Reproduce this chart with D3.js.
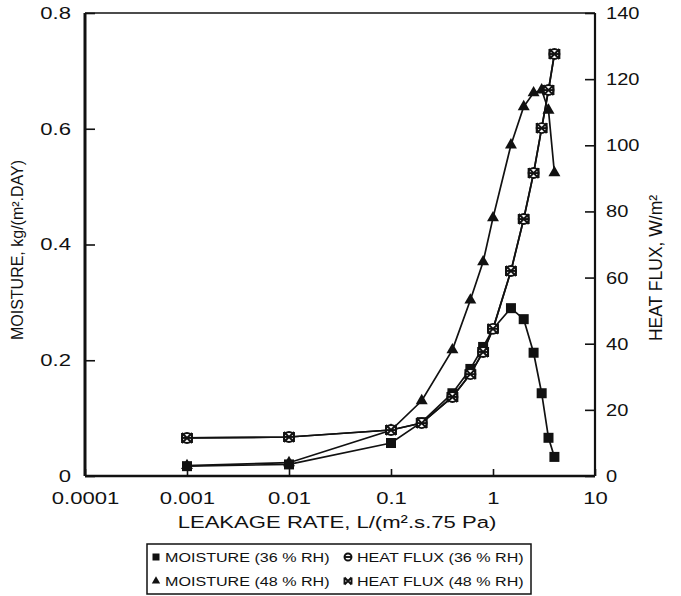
<!DOCTYPE html>
<html>
<head>
<meta charset="utf-8">
<script src="https://d3js.org/d3.v7.min.js"></script>
<style>
  body { margin: 0; background: #fff; }
  svg text { font-family: "Liberation Sans", Arial, sans-serif; fill: #111; }
  .wide { transform-box: fill-box; transform-origin: center; transform: scaleX(1.3); }
  .wide-r { transform-box: fill-box; transform-origin: right center; transform: scaleX(1.3); }
  .wide-l { transform-box: fill-box; transform-origin: left center; transform: scaleX(1.18); }
  .leg { transform-box: fill-box; transform-origin: left center; transform: scaleX(1.24); }
</style>
</head>
<body>
<svg id="chart" width="681" height="596"></svg>
<script>
// leakage rate, L/(m2.s.75 Pa)
var leakage    = [0.001, 0.01, 0.1, 0.2, 0.4, 0.6, 0.8, 1.0, 1.5, 2.0, 2.5, 3.0, 3.5, 4.0];
// kg/(m2.day)
var moisture36 = [0.017, 0.020, 0.057, 0.093, 0.143, 0.185, 0.223, 0.254, 0.290, 0.271, 0.213, 0.143, 0.066, 0.033];
var moisture48 = [0.018, 0.023, 0.079, 0.130, 0.218, 0.304, 0.370, 0.446, 0.572, 0.638, 0.662, 0.667, 0.632, 0.524];
// W/m2
var heatFlux36 = [11.5, 11.8, 13.9, 16.0, 23.9, 30.8, 37.5, 44.5, 62.0, 77.7, 91.6, 105.2, 116.7, 127.6];
var heatFlux48 = [11.5, 11.8, 13.9, 16.0, 23.9, 30.8, 37.5, 44.5, 62.0, 77.7, 91.6, 105.2, 116.7, 127.6];

var xTicks = [0.0001, 0.001, 0.01, 0.1, 1, 10];
var xTickLabels = ["0.0001", "0.001", "0.01", "0.1", "1", "10"];
var yLeftTicks = [0, 0.2, 0.4, 0.6, 0.8];
var yLeftLabels = ["0", "0.2", "0.4", "0.6", "0.8"];
var yRightTicks = [0, 20, 40, 60, 80, 100, 120, 140];

var legendItems = ["MOISTURE (36 % RH)", "HEAT FLUX (36 % RH)", "MOISTURE (48 % RH)", "HEAT FLUX (48 % RH)"];

var svg = d3.select("#chart");
var plotL = 85, plotR = 595, plotT = 13, plotB = 476;

var x = d3.scaleLog().domain([0.0001, 10]).range([plotL, plotR]);
var yL = d3.scaleLinear().domain([0, 0.8]).range([plotB, plotT]);
var yR = d3.scaleLinear().domain([0, 140]).range([plotB, plotT]);

// axes (ticks point inward)
var gl = svg.append("g").attr("transform", "translate(" + plotL + ",0)")
    .call(d3.axisLeft(yL).tickValues(yLeftTicks).tickSizeInner(-10).tickSizeOuter(0).tickPadding(14)
        .tickFormat(function (d, i) { return yLeftLabels[i]; }));
var gr = svg.append("g").attr("transform", "translate(" + plotR + ",0)")
    .call(d3.axisRight(yR).tickValues(yRightTicks).tickSizeInner(-10).tickSizeOuter(0).tickPadding(11));
var gb = svg.append("g").attr("transform", "translate(0," + plotB + ")")
    .call(d3.axisBottom(x).tickValues(xTicks).tickSizeInner(-7).tickSizeOuter(0).tickPadding(16)
        .tickFormat(function (d, i) { return xTickLabels[i]; }));

[gl, gr, gb].forEach(function (g) {
    g.select(".domain").remove();
    g.selectAll("line").attr("stroke", "#111").attr("stroke-width", 1.6);
    g.selectAll("text").style("font-size", "17px").attr("fill", "#111");
});
gl.selectAll("text").attr("class", "wide-r");
gr.selectAll("text").attr("class", "wide-l");
gb.selectAll("text").attr("class", "wide");

// frame
svg.append("line").attr("x1", plotL).attr("x2", plotR).attr("y1", plotT).attr("y2", plotT)
    .attr("stroke", "#111").attr("stroke-width", 1.6);
svg.append("line").attr("x1", plotL).attr("x2", plotR).attr("y1", plotB).attr("y2", plotB)
    .attr("stroke", "#111").attr("stroke-width", 2.4);
svg.append("line").attr("x1", plotR).attr("x2", plotR).attr("y1", plotT).attr("y2", plotB)
    .attr("stroke", "#111").attr("stroke-width", 2.2);
svg.append("line").attr("x1", plotL).attr("x2", plotL).attr("y1", plotT).attr("y2", plotB)
    .attr("stroke", "#111").attr("stroke-width", 3);

// axis titles
svg.append("text").attr("class", "wide")
    .attr("x", 337).attr("y", 528).attr("text-anchor", "middle")
    .style("font-size", "17px").text("LEAKAGE RATE, L/(m\u00b2.s.75 Pa)");
svg.append("text")
    .attr("transform", "translate(23,250) rotate(-90)").attr("text-anchor", "middle")
    .style("font-size", "16px").text("MOISTURE, kg/(m\u00b2.DAY)");
svg.append("text")
    .attr("transform", "translate(662,268) rotate(-90)").attr("text-anchor", "middle")
    .style("font-size", "17.5px").text("HEAT FLUX, W/m\u00b2");

// marker shapes
function square(g, s) {
    g.append("rect").attr("x", -s / 2).attr("y", -s / 2).attr("width", s).attr("height", s).attr("fill", "#111");
}
function triangle(g, s) {
    g.append("path").attr("d", d3.symbol(d3.symbolTriangle, s * s * 0.62)()).attr("fill", "#111");
}
function circleBar(g, s) {
    var r = s / 2;
    g.append("circle").attr("r", r).attr("fill", "#fff").attr("stroke", "#111").attr("stroke-width", 1.9);
    g.append("line").attr("x1", -r).attr("x2", r).attr("stroke", "#111").attr("stroke-width", 1.9);
}
function bowtie(g, s) {
    var h = s / 2;
    g.append("path")
        .attr("d", "M" + -h + "," + -h + "L" + h + "," + h + "M" + -h + "," + h + "L" + h + "," + -h +
            "M" + -h + "," + -h + "V" + h + "M" + h + "," + -h + "V" + h)
        .attr("fill", "none").attr("stroke", "#111").attr("stroke-width", 1.9);
}

function drawSeries(values, yScale, marker, size) {
    var line = d3.line()
        .x(function (d, i) { return x(leakage[i]); })
        .y(function (d) { return yScale(d); });
    svg.append("path").datum(values).attr("d", line)
        .attr("fill", "none").attr("stroke", "#111").attr("stroke-width", 1.7);
    return function () {
        values.forEach(function (v, i) {
            var g = svg.append("g").attr("transform", "translate(" + x(leakage[i]) + "," + yScale(v) + ")");
            marker(g, size);
        });
    };
}

var m1 = drawSeries(moisture36, yL, square, 10);
var m2 = drawSeries(moisture48, yL, triangle, 10);
var h1 = drawSeries(heatFlux36, yR, circleBar, 10);
var h2 = drawSeries(heatFlux48, yR, bowtie, 10);
m2(); m1(); h1(); h2();

// legend
var lg = svg.append("g");
lg.append("rect").attr("x", 147).attr("y", 544).attr("width", 384).attr("height", 50)
    .attr("fill", "#fff").attr("stroke", "#111").attr("stroke-width", 1.5);
var legPos = [[156, 557], [348, 557], [156, 581], [348, 581]];
var legMarkers = [square, circleBar, triangle, bowtie];
legendItems.forEach(function (t, i) {
    var p = legPos[i];
    var g = lg.append("g").attr("transform", "translate(" + p[0] + "," + p[1] + ")");
    legMarkers[i](g, 7);
    lg.append("text").attr("class", "leg").attr("x", p[0] + 9).attr("y", p[1] + 5)
        .style("font-size", "13px").text(t);
});
</script>
</body>
</html>
